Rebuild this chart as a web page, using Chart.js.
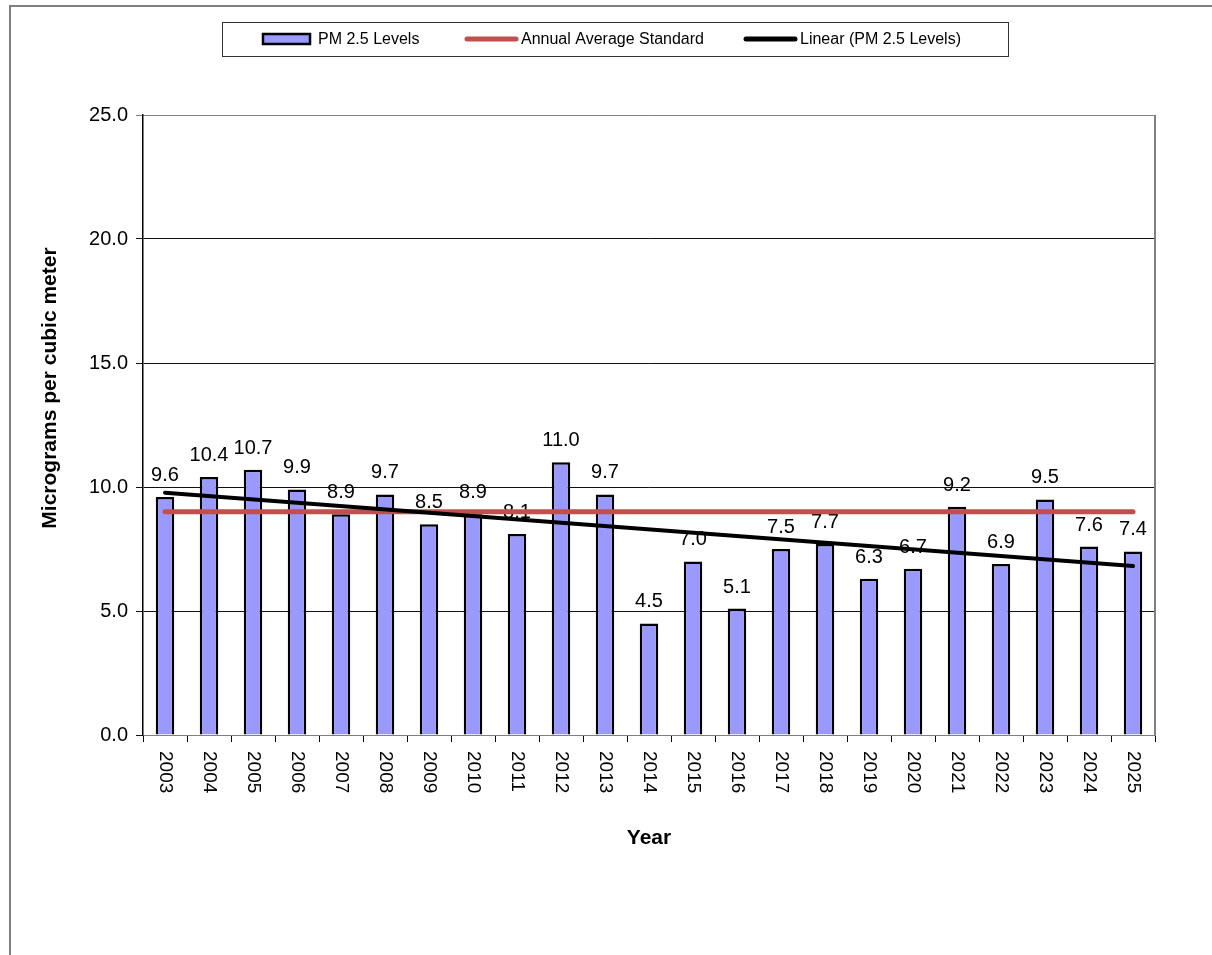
<!DOCTYPE html>
<html>
<head>
<meta charset="utf-8">
<title>PM 2.5 Levels</title>
<script src="https://cdn.jsdelivr.net/npm/chart.js@4.4.1/dist/chart.umd.min.js"></script>
<style>
  html, body { margin: 0; padding: 0; background: #fff; }
  #wrap { position: relative; width: 1212px; height: 955px; overflow: hidden; }
  #frame { position: absolute; left: 9px; top: 5px; width: 1400px; height: 1200px;
           border-left: 2px solid #808080; border-top: 2px solid #808080; }
  #chart { position: absolute; left: 0; top: 0; }
</style>
</head>
<body>
<div id="wrap">
  <div id="frame"></div>
  <canvas id="chart" width="1212" height="955"></canvas>
</div>
<script>
const years = ['2003', '2004', '2005', '2006', '2007', '2008', '2009', '2010', '2011', '2012', '2013', '2014',
               '2015', '2016', '2017', '2018', '2019', '2020', '2021', '2022', '2023', '2024', '2025'];
const pmLevels = [9.6, 10.4, 10.7, 9.9, 8.9, 9.7, 8.5, 8.9, 8.1, 11.0, 9.7, 4.5,
                  7.0, 5.1, 7.5, 7.7, 6.3, 6.7, 9.2, 6.9, 9.5, 7.6, 7.4];
const annualStandard = [9.0, 9.0, 9.0, 9.0, 9.0, 9.0, 9.0, 9.0, 9.0, 9.0, 9.0, 9.0,
                        9.0, 9.0, 9.0, 9.0, 9.0, 9.0, 9.0, 9.0, 9.0, 9.0, 9.0];
// trend line only has its two end points, the rest is spanned
const trendLine = [9.77, null, null, null, null, null, null, null, null, null, null, null,
                   null, null, null, null, null, null, null, null, null, null, 6.81];
const yTicks = [0, 5, 10, 15, 20, 25];
const yTitle = 'Micrograms per cubic meter';

const FONT = "'Liberation Sans', Arial, sans-serif";
Chart.defaults.font.family = FONT;
Chart.defaults.color = '#000';

// value labels above the bars, drawn before the lines so those sit on top
const barLabels = {
    id: 'barLabels',
    afterDatasetDraw(chart, args) {
        if (args.index !== 0) return;
        const ctx = chart.ctx;
        ctx.save();
        ctx.font = '20px ' + FONT;
        ctx.fillStyle = '#000';
        ctx.textAlign = 'center';
        ctx.textBaseline = 'alphabetic';
        args.meta.data.forEach((bar, i) => {
            ctx.fillText(pmLevels[i].toFixed(1), bar.x, bar.y - 16);
        });
        ctx.restore();
    }
};

const extras = {
    id: 'extras',
    afterDraw(chart) {
        const ctx = chart.ctx;
        const area = chart.chartArea;
        const xs = chart.scales.x;

        // right edge of the plot area
        ctx.save();
        ctx.strokeStyle = '#808080';
        ctx.lineWidth = 2;
        ctx.beginPath();
        ctx.moveTo(area.right, area.top);
        ctx.lineTo(area.right, area.bottom);
        ctx.stroke();

        // year labels, reading top to bottom
        ctx.font = '19px ' + FONT;
        ctx.fillStyle = '#000';
        ctx.textAlign = 'left';
        ctx.textBaseline = 'middle';
        years.forEach((y, i) => {
            ctx.save();
            ctx.translate(xs.getPixelForValue(i), area.bottom + 16);
            ctx.rotate(Math.PI / 2);
            ctx.fillText(y, 0, 0);
            ctx.restore();
        });

        // value axis title, sits a bit above the plot's middle
        ctx.save();
        ctx.font = 'bold 21px ' + FONT;
        ctx.textAlign = 'center';
        ctx.textBaseline = 'middle';
        ctx.translate(50, 388);
        ctx.rotate(-Math.PI / 2);
        ctx.fillText(yTitle, 0, 0);
        ctx.restore();

        // boxed legend
        ctx.strokeStyle = '#333';
        ctx.lineWidth = 1;
        ctx.strokeRect(222.5, 22.5, 786, 34);
        ctx.font = '16px ' + FONT;
        ctx.textAlign = 'left';
        ctx.textBaseline = 'middle';
        const ds = chart.data.datasets;
        // bar swatch
        ctx.fillStyle = ds[0].backgroundColor;
        ctx.fillRect(263, 34, 47, 10);
        ctx.strokeStyle = '#000';
        ctx.lineWidth = 2.5;
        ctx.strokeRect(263, 34, 47, 10);
        ctx.fillStyle = '#000';
        ctx.fillText(ds[0].label, 318, 40);
        // line swatches
        [[ds[1], 467, 516, 521], [ds[2], 746, 795, 800]].forEach(([d, x0, x1, tx]) => {
            ctx.strokeStyle = d.borderColor;
            ctx.lineWidth = 5;
            ctx.lineCap = 'round';
            ctx.beginPath();
            ctx.moveTo(x0, 39);
            ctx.lineTo(x1, 39);
            ctx.stroke();
            ctx.fillText(d.label, tx, 40);
        });
        ctx.restore();
    }
};

new Chart(document.getElementById('chart'), {
    type: 'bar',
    data: {
        labels: years,
        datasets: [{
            label: 'PM 2.5 Levels',
            data: pmLevels,
            backgroundColor: '#9999FF',
            borderColor: '#000',
            borderWidth: 2.5,
            barPercentage: 0.42,
            categoryPercentage: 1,
            order: 3
        }, {
            type: 'line',
            label: 'Annual Average Standard',
            data: annualStandard,
            borderColor: '#C0504D',
            borderWidth: 5,
            borderCapStyle: 'round',
            pointRadius: 0,
            fill: false,
            order: 2
        }, {
            type: 'line',
            label: 'Linear (PM 2.5 Levels)',
            data: trendLine,
            borderColor: '#000',
            borderWidth: 4,
            borderCapStyle: 'round',
            pointRadius: 0,
            spanGaps: true,
            fill: false,
            order: 1
        }]
    },
    options: {
        responsive: false,
        animation: false,
        layout: { padding: { top: 115, right: 57, bottom: 0, left: 0 } },
        plugins: {
            legend: { display: false },
            tooltip: { enabled: false }
        },
        scales: {
            x: {
                offset: true,
                grid: { offset: true, drawOnChartArea: false, tickLength: 7, color: '#000' },
                border: { color: '#808080', width: 1 },
                ticks: { display: false },
                title: {
                    display: true, text: 'Year',
                    font: { size: 21, weight: 'bold' },
                    padding: { top: 0, bottom: 104 }
                },
                afterFit: s => { s.height = 220; }
            },
            y: {
                min: 0,
                max: 25,
                afterBuildTicks: s => { s.ticks = yTicks.map(v => ({ value: v })); },
                grid: {
                    tickLength: 7,
                    color: c => (c.tick && c.tick.value === 25) ? '#808080' : '#111'
                },
                border: { color: '#000', width: 1.5 },
                ticks: {
                    padding: 8,
                    font: { size: 20 },
                    callback: v => v.toFixed(1)
                },
                afterFit: s => { s.width = 143; }
            }
        }
    },
    plugins: [barLabels, extras]
});
</script>
</body>
</html>
